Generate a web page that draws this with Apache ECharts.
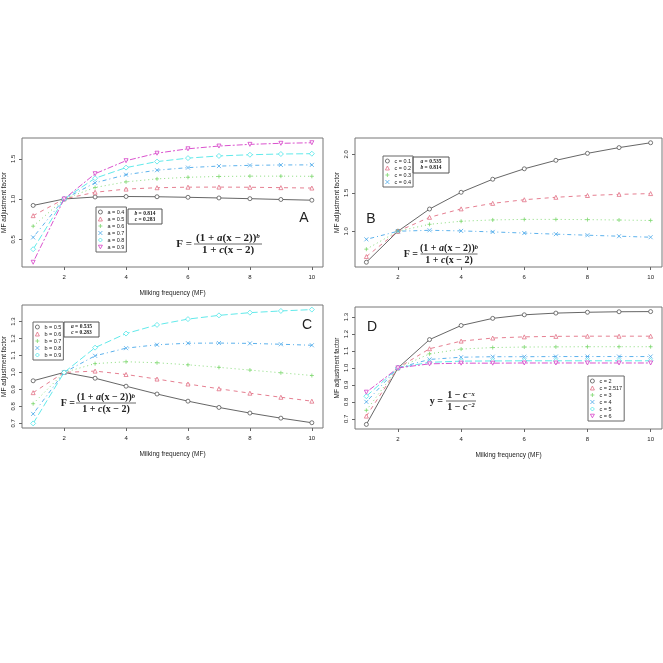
<!DOCTYPE html>
<html>
<head>
<meta charset="utf-8">
<script src="https://cdn.jsdelivr.net/npm/echarts@6/dist/echarts.min.js"></script>
<style>html,body{margin:0;background:#fff}#chart{width:663px;height:663px}</style>
</head>
<body>
<div id="chart"></div>
<script>
const mf = [1, 2, 3, 4, 5, 6, 7, 8, 9, 10];
const xTicks = [2, 4, 6, 8, 10];

// Panel A: varying a (b = 0.814, c = 0.283)
const namesA = ['a = 0.4', 'a = 0.5', 'a = 0.6', 'a = 0.7', 'a = 0.8', 'a = 0.9'];
const a04 = [0.920, 1, 1.025, 1.031, 1.028, 1.021, 1.013, 1.004, 0.994, 0.985];
const a05 = [0.793, 1, 1.084, 1.123, 1.140, 1.147, 1.148, 1.146, 1.141, 1.136];
const a06 = [0.662, 1, 1.143, 1.213, 1.250, 1.270, 1.280, 1.284, 1.284, 1.282];
const a07 = [0.523, 1, 1.201, 1.302, 1.358, 1.390, 1.409, 1.418, 1.423, 1.424];
const a08 = [0.376, 1, 1.258, 1.390, 1.465, 1.508, 1.535, 1.550, 1.559, 1.563];
const a09 = [0.214, 1, 1.314, 1.476, 1.569, 1.624, 1.658, 1.679, 1.692, 1.699];
const yTicksA = [0.5, 1.0, 1.5];

// Panel B: varying c (a = 0.535, b = 0.814)
const namesB = ['c = 0.1', 'c = 0.2', 'c = 0.3', 'c = 0.4'];
const c01 = [0.596, 1, 1.289, 1.507, 1.677, 1.813, 1.923, 2.014, 2.089, 2.152];
const c02 = [0.670, 1, 1.181, 1.291, 1.363, 1.410, 1.442, 1.465, 1.480, 1.490];
const c03 = [0.766, 1, 1.090, 1.130, 1.147, 1.154, 1.154, 1.151, 1.146, 1.140];
const c04 = [0.894, 1, 1.012, 1.004, 0.991, 0.976, 0.962, 0.948, 0.935, 0.922];
const yTicksB = [1.0, 1.5, 2.0];

// Panel C: varying b (a = 0.535, c = 0.283)
const namesC = ['b = 0.5', 'b = 0.6', 'b = 0.7', 'b = 0.8', 'b = 0.9'];
const b05 = [0.951, 1, 0.966, 0.919, 0.873, 0.831, 0.794, 0.761, 0.731, 0.704];
const b06 = [0.881, 1, 1.008, 0.988, 0.961, 0.932, 0.904, 0.878, 0.854, 0.831];
const b07 = [0.816, 1, 1.052, 1.063, 1.057, 1.045, 1.030, 1.014, 0.998, 0.982];
const b08 = [0.756, 1, 1.098, 1.143, 1.163, 1.172, 1.173, 1.171, 1.166, 1.160];
const b09 = [0.700, 1, 1.146, 1.229, 1.280, 1.314, 1.336, 1.352, 1.362, 1.370];
const yTicksC = [0.7, 0.8, 0.9, 1.0, 1.1, 1.2, 1.3];

// Panel D: y = (1 - c^-x) / (1 - c^-2)
const namesD = ['c = 2', 'c = 2.517', 'c = 3', 'c = 4', 'c = 5', 'c = 6'];
const d2 = [0.667, 1, 1.167, 1.250, 1.292, 1.313, 1.323, 1.328, 1.331, 1.332];
const d2517 = [0.716, 1, 1.113, 1.158, 1.176, 1.183, 1.186, 1.187, 1.187, 1.187];
const d3 = [0.750, 1, 1.083, 1.111, 1.120, 1.123, 1.124, 1.125, 1.125, 1.125];
const d4 = [0.800, 1, 1.050, 1.063, 1.066, 1.066, 1.067, 1.067, 1.067, 1.067];
const d5 = [0.833, 1, 1.033, 1.040, 1.041, 1.042, 1.042, 1.042, 1.042, 1.042];
const d6 = [0.857, 1, 1.024, 1.028, 1.028, 1.029, 1.029, 1.029, 1.029, 1.029];
const yTicksD = [0.7, 0.8, 0.9, 1.0, 1.1, 1.2, 1.3];

const palette = ['#555555', '#E27085', '#7DD86E', '#4AA8EA', '#4FE6E8', '#D640C8'];
const dashes = ['solid', [4, 4], [1, 3], [1, 3, 4, 3], [7, 3], [2, 2, 6, 2]];
const pch = ['circle', 'triangle', 'path://M5,0V10M0,5H10', 'path://M0,0L10,10M10,0L0,10', 'diamond', 'path://M0,0H10L5,9Z'];
const sans = 'Liberation Sans';
const serif = 'Liberation Serif';

function makeSeries(idx, names, rows) {
    return rows.map((vals, i) => ({
        name: names[i],
        type: 'line',
        xAxisIndex: idx,
        yAxisIndex: idx,
        data: mf.map((x, k) => [x, vals[k]]),
        symbol: pch[i],
        symbolSize: i === 4 ? 5 : 4,
        lineStyle: {color: palette[i], width: 0.9, type: dashes[i]},
        itemStyle: {color: '#fff', borderColor: palette[i], borderWidth: 0.8},
        z: 2 + i
    }));
}

function makeLegend(names, left, top) {
    return {
        data: names.map((n, i) => ({
            name: n, icon: pch[i],
            itemStyle: {color: '#fff', borderColor: palette[i], borderWidth: 0.8}
        })),
        orient: 'vertical', left: left, top: top,
        itemWidth: 4, itemHeight: 4, itemGap: 1,
        padding: [2, 2, 2, 2],
        borderColor: '#666', borderWidth: 1,
        selectedMode: false,
        textStyle: {fontSize: 5.5, lineHeight: 6, fontFamily: sans, color: '#222'}
    };
}

function xAx(idx, withName) {
    return {
        gridIndex: idx, type: 'value', min: 0.64, max: 10.36,
        name: withName ? 'Milking frequency (MF)' : '',
        nameLocation: 'middle', nameGap: 23,
        nameTextStyle: {fontSize: 6.5, fontFamily: sans, color: '#222'},
        axisLine: {show: false}, splitLine: {show: false},
        axisTick: {show: true, length: 3, lineStyle: {color: '#666'}, customValues: xTicks},
        axisLabel: {fontSize: 6, fontFamily: sans, color: '#222', margin: 7, customValues: xTicks}
    };
}

function yAx(idx, min, max, ticks) {
    return {
        gridIndex: idx, type: 'value', min: min, max: max,
        name: 'MF adjustment factor',
        nameLocation: 'middle', nameGap: 14, nameRotate: 90,
        nameTextStyle: {fontSize: 6.5, fontFamily: sans, color: '#222'},
        axisLine: {show: false}, splitLine: {show: false},
        axisTick: {show: true, length: 3, lineStyle: {color: '#666'}, customValues: ticks},
        axisLabel: {
            fontSize: 6, fontFamily: sans, color: '#222', margin: 6, rotate: 90,
            customValues: ticks, formatter: v => v.toFixed(1)
        }
    };
}

function richVars(size) {
    return {
        n: {fontSize: size, fontWeight: 'bold', fontFamily: serif},
        i: {fontSize: size, fontStyle: 'italic', fontWeight: 'bold', fontFamily: serif},
        s: {fontSize: size * 0.65, fontStyle: 'italic', fontWeight: 'bold', fontFamily: serif, verticalAlign: 'top'}
    };
}

function label(x, y, text, size) {
    return {type: 'text', x: x, y: y, style: {text: text, fontSize: size, fontFamily: sans, fill: '#222', align: 'center', verticalAlign: 'middle'}};
}

function paramBox(x, y, w, h, lines) {
    const out = [{type: 'rect', shape: {x: x, y: y, width: w, height: h}, style: {fill: '#fff', stroke: '#555', lineWidth: 1}}];
    lines.forEach((t, k) => out.push({
        type: 'text', x: x + w / 2, y: y + 4.5 + k * 6,
        style: {text: t, fontSize: 5.5, fontFamily: serif, fontWeight: 'bold', fill: '#222', align: 'center', verticalAlign: 'middle', rich: richVars(5.5)}
    }));
    return out;
}

function fraction(lead, leadRight, cx, cy, w, num, den, size) {
    const base = {fontSize: size, fontFamily: serif, fontWeight: 'bold', fill: '#222', rich: richVars(size)};
    return [
        {type: 'text', x: leadRight, y: cy, style: {...base, text: lead, align: 'right', verticalAlign: 'middle'}},
        {type: 'line', shape: {x1: cx - w / 2, y1: cy, x2: cx + w / 2, y2: cy}, style: {stroke: '#444', lineWidth: 0.8}},
        {type: 'text', x: cx, y: cy - 0.5, style: {...base, text: num, align: 'center', verticalAlign: 'bottom'}},
        {type: 'text', x: cx, y: cy + 1, style: {...base, text: den, align: 'center', verticalAlign: 'top'}}
    ];
}

const numF = '{n|(1 + }{i|a}{n|(x − 2))}{s|b}';
const denF = '{n|1 + }{i|c}{n|(x − 2)}';

const chart = echarts.init(document.getElementById('chart'));
chart.setOption({
    animation: false,
    backgroundColor: '#fff',
    grid: [
        {left: 22, top: 138, width: 301, height: 129, show: true, borderColor: '#777', borderWidth: 1},
        {left: 355, top: 138, width: 307, height: 129, show: true, borderColor: '#777', borderWidth: 1},
        {left: 22, top: 305, width: 301, height: 123, show: true, borderColor: '#777', borderWidth: 1},
        {left: 355, top: 307, width: 307, height: 122, show: true, borderColor: '#777', borderWidth: 1}
    ],
    xAxis: [xAx(0, true), xAx(1, false), xAx(2, true), xAx(3, true)],
    yAxis: [
        yAx(0, 0.155, 1.758, yTicksA),
        yAx(1, 0.534, 2.214, yTicksB),
        yAx(2, 0.673, 1.397, yTicksC),
        yAx(3, 0.640, 1.359, yTicksD)
    ],
    legend: [
        makeLegend(namesA, 96, 207),
        makeLegend(namesB, 383, 156),
        makeLegend(namesC, 33, 322),
        makeLegend(namesD, 588, 376)
    ],
    series: [
        ...makeSeries(0, namesA, [a04, a05, a06, a07, a08, a09]),
        ...makeSeries(1, namesB, [c01, c02, c03, c04]),
        ...makeSeries(2, namesC, [b05, b06, b07, b08, b09]),
        ...makeSeries(3, namesD, [d2, d2517, d3, d4, d5, d6])
    ],
    graphic: [
        label(304, 218, 'A', 14),
        label(371, 219, 'B', 14),
        label(307, 325, 'C', 14),
        label(372, 327, 'D', 14),
        ...paramBox(128, 209, 34, 15, ['{i|b}{n| = 0.814}', '{i|c}{n| = 0.283}']),
        ...paramBox(413, 157, 36, 16, ['{i|a}{n| = 0.535}', '{i|b}{n| = 0.814}']),
        ...paramBox(64, 322, 35, 15, ['{i|a}{n| = 0.535}', '{i|c}{n| = 0.283}']),
        ...fraction('F =', 192, 228, 244, 68, numF, denF, 11),
        ...fraction('F =', 418, 449, 254, 57, numF, denF, 10),
        ...fraction('F =', 75, 106, 403, 60, numF, denF, 10),
        ...fraction('y =', 443, 461, 401, 30, '{n|1 − }{i|c}{s|−x}', '{n|1 − }{i|c}{s|−2}', 10)
    ]
});
</script>
</body>
</html>
